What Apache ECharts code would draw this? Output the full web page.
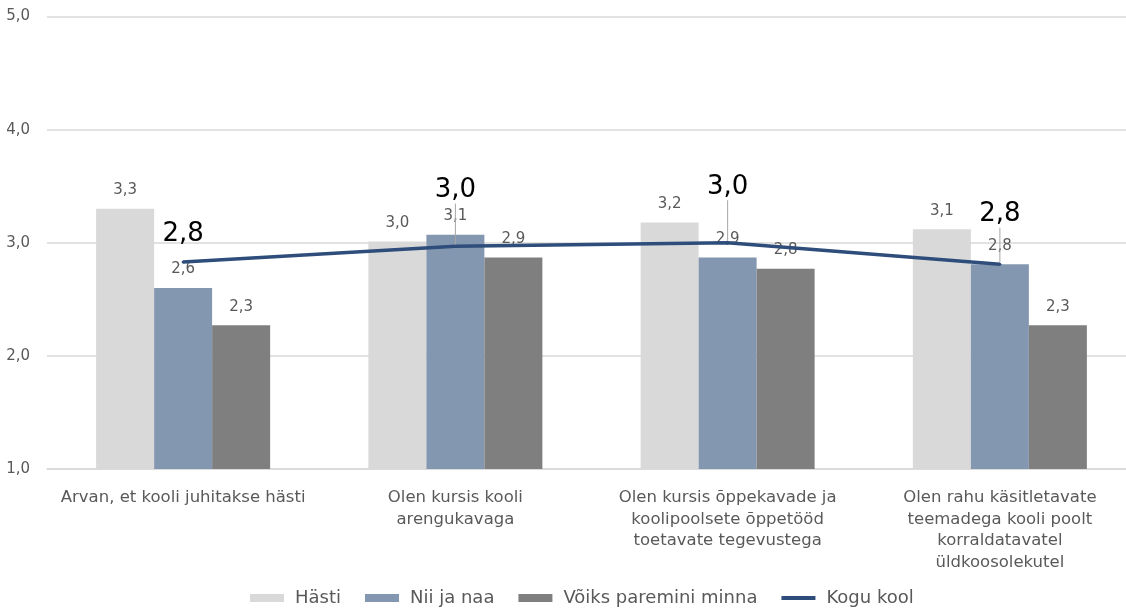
<!DOCTYPE html>
<html>
<head>
<meta charset="utf-8">
<script src="https://cdn.jsdelivr.net/npm/echarts@6/dist/echarts.min.js"></script>
<style>
html,body{margin:0;padding:0;background:#fff;overflow:hidden;width:1126px;height:612px;}
#chart{width:1136px;height:612px;}
</style>
</head>
<body>
<div id="chart"></div>
<script>
const categories = [
  'Arvan, et kooli juhitakse hästi',
  'Olen kursis kooli\narengukavaga',
  'Olen kursis õppekavade ja\nkoolipoolsete õppetööd\ntoetavate tegevustega',
  'Olen rahu käsitletavate\nteemadega kooli poolt\nkorraldatavatel\nüldkoosolekutel'
];
const hasti = [3.30, 3.01, 3.18, 3.12];
const niiJaNaa = [2.60, 3.07, 2.87, 2.81];
const voiks = [2.27, 2.87, 2.77, 2.27];
const koguKool = [2.83, 2.97, 3.00, 2.81];
const yTicks = [1, 2, 3, 4, 5];

const FONT = 'DejaVu Sans';
const fmt = v => (typeof v === 'object' ? v.value : v).toFixed(1).replace('.', ',');
const lineLabelShift = [-7, -35, -35, -29];
const lineLabelGuide = [false, true, true, true];

function barSeries(name, data, color) {
  return {
    name, type: 'bar', data, barWidth: 58, barGap: '0%',
    itemStyle: { color },
    label: {
      show: true, position: 'top', distance: 11,
      color: '#595959', fontSize: 15, fontFamily: FONT,
      formatter: p => fmt(p.value)
    },
    z: 2
  };
}

const chart = echarts.init(document.getElementById('chart'));
chart.setOption({
  animation: false,
  backgroundColor: '#fff',
  textStyle: { fontFamily: FONT },
  grid: { left: 47, right: 0, top: 16.5, bottom: 143, containLabel: false },
  xAxis: {
    type: 'category', data: categories,
    axisLine: { show: true, lineStyle: { color: '#d9d9d9', width: 1.5 } },
    axisTick: { show: false },
    axisLabel: {
      interval: 0, color: '#595959', fontSize: 16.5, fontFamily: FONT,
      lineHeight: 21.5, margin: 18, align: 'center'
    }
  },
  yAxis: {
    type: 'value', min: yTicks[0], max: yTicks[yTicks.length - 1], interval: 1,
    axisLine: { show: false }, axisTick: { show: false },
    splitLine: { lineStyle: { color: '#d9d9d9', width: 1.5 } },
    axisLabel: {
      color: '#595959', fontSize: 15, fontFamily: FONT, margin: 17,
      formatter: v => v.toFixed(1).replace('.', ',')
    }
  },
  legend: {
    bottom: 0, left: 245, itemWidth: 34, itemHeight: 8, itemGap: 24,
    textStyle: { color: '#595959', fontSize: 18, fontFamily: FONT, padding: [0, 0, 0, 6] },
    data: [
      { name: 'Hästi', icon: 'rect' },
      { name: 'Nii ja naa', icon: 'rect' },
      { name: 'Võiks paremini minna', icon: 'rect' },
      { name: 'Kogu kool', icon: 'path://M0,0L34,0L34,4L0,4Z' }
    ]
  },
  series: [
    barSeries('Hästi', hasti, '#d9d9d9'),
    barSeries('Nii ja naa', niiJaNaa, '#8497b0'),
    barSeries('Võiks paremini minna', voiks, '#7f7f7f'),
    {
      name: 'Kogu kool', type: 'line',
      data: koguKool.map((v, i) => ({ value: v, labelLine: { show: lineLabelGuide[i] } })),
      symbol: 'circle', symbolSize: 3, showSymbol: true,
      itemStyle: { color: '#2e4d7a' },
      lineStyle: { color: '#2e4d7a', width: 3.5 },
      z: 5,
      label: {
        show: true, position: 'top', distance: 6,
        color: '#000', fontSize: 26, fontFamily: FONT,
        formatter: p => fmt(p.value)
      },
      labelLine: { show: true, lineStyle: { color: '#a6a6a6', width: 1 } },
      labelLayout: p => ({ dy: lineLabelShift[p.dataIndex] })
    }
  ]
});
</script>
</body>
</html>
